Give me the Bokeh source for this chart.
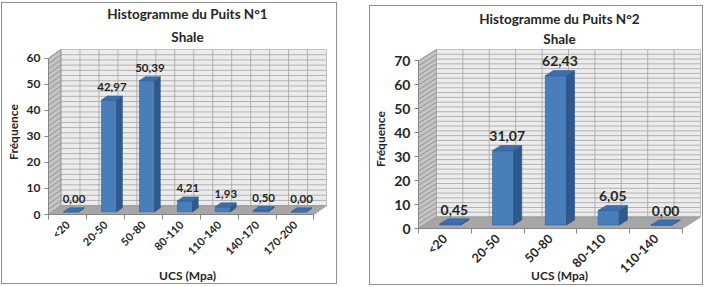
from bokeh.plotting import figure
from bokeh.layouts import row, column, Spacer
from bokeh.models import Range1d, FixedTicker, Title, ColumnDataSource
from bokeh.embed import file_html
from bokeh.resources import INLINE

# ---------------- data ----------------
cats1 = ["<20", "20-50", "50-80", "80-110", "110-140", "140-170", "170-200"]
vals1 = [0.00, 42.97, 50.39, 4.21, 1.93, 0.50, 0.00]
yticks1 = [0, 10, 20, 30, 40, 50, 60]
title1 = "Histogramme du Puits N°1"

cats2 = ["<20", "20-50", "50-80", "80-110", "110-140"]
vals2 = [0.45, 31.07, 62.43, 6.05, 0.00]
yticks2 = [0, 10, 20, 30, 40, 50, 60, 70]
title2 = "Histogramme du Puits N°2"

subtitle = "Shale"
xlabel = "UCS (Mpa)"
ylabel = "Fréquence"

FONT = "Lato"
TXT = "#262626"
AX = "#868686"


def build(title, cats, vals, yticks, width, height, DX, DY, borders, fs, pad, xlab_standoff, sub_stand):
    n = len(cats)
    ymax = yticks[-1]
    p = figure(width=width, height=height, output_backend="svg", toolbar_location=None,
               x_range=Range1d(0, n + DX), y_range=Range1d(0, ymax + DY),
               title=title, min_border_left=borders[0], min_border_right=borders[1],
               min_border_top=borders[2], min_border_bottom=borders[3])
    p.outline_line_color = None
    p.xgrid.visible = False
    p.ygrid.visible = False
    p.background_fill_color = "white"

    # titles (main title outer, subtitle inner)
    p.title.align = "center"
    p.title.text_font = FONT
    p.title.text_font_size = fs["title"]
    p.title.text_color = TXT
    p.title.standoff = 0
    t = Title(text=subtitle, align="center", text_font=FONT, text_font_size=fs["title"],
              text_color=TXT, standoff=sub_stand)
    p.add_layout(t, "above")

    # side wall (left)
    p.patch([0, DX, DX, 0], [0, DY, ymax + DY, ymax], fill_color="#c4c4c4", line_color="#9a9a9a", line_width=0.8)
    # back wall
    p.patch([DX, n + DX, n + DX, DX], [DY, DY, ymax + DY, ymax + DY], fill_color="#ececec",
            line_color="#a8a8a8", line_width=0.8)
    # grid lines every 2 units
    gy = [float(v) for v in range(0, ymax + 1, 2)]
    p.segment(x0=[DX] * len(gy), y0=[g + DY for g in gy], x1=[n + DX] * len(gy), y1=[g + DY for g in gy],
              line_color="#a3a3a3", line_width=0.8)
    p.segment(x0=[0] * len(gy), y0=gy, x1=[DX] * len(gy), y1=[g + DY for g in gy],
              line_color="#858585", line_width=0.8)
    gx = [i * 0.5 for i in range(0, 2 * n + 1)]
    p.segment(x0=[g + DX for g in gx], y0=[DY] * len(gx), x1=[g + DX for g in gx], y1=[ymax + DY] * len(gx),
              line_color="#a3a3a3", line_width=0.8)
    # floor
    p.patch([0, n, n + DX, DX], [0, 0, DY, DY], fill_color="#a6a6a6", line_color="#9a9a9a", line_width=0.8)

    # bars (3D-like)
    w, f, g = 0.40, 0.30, 0.45
    fx, sx, tx = [], [], []
    fy, sy, ty = [], [], []
    lx, ly, lt = [], [], []
    for i, v in enumerate(vals):
        c = i + 0.5
        x0 = c - w / 2 + f * DX
        x1 = c + w / 2 + f * DX
        b = f * DY
        ddx, ddy = g * DX, g * DY
        fx.append([x0, x1, x1, x0]); fy.append([b, b, b + v, b + v])
        sx.append([x1, x1 + ddx, x1 + ddx, x1]); sy.append([b, b + ddy, b + v + ddy, b + v])
        tx.append([x0, x1, x1 + ddx, x0 + ddx]); ty.append([b + v, b + v, b + v + ddy, b + v + ddy])
        lx.append((x0 + x1 + ddx) / 2)
        ly.append(v + b + ddy + pad)
        lt.append(f"{v:.2f}".replace(".", ","))
    p.patches(xs=fx, ys=fy, fill_color="#4a7ebb", line_color="#2f5c92", line_width=0.6)
    p.patches(xs=sx, ys=sy, fill_color="#2d5a8e", line_color="#264d7a", line_width=0.6)
    p.patches(xs=tx, ys=ty, fill_color="#3d6fae", line_color="#2f5c92", line_width=0.6)

    src = ColumnDataSource(dict(x=lx, y=ly, t=lt))
    p.text(x="x", y="y", text="t", source=src, text_align="center", text_baseline="bottom",
           text_font_size=fs["data"], text_font_style="bold", text_color=TXT,
           text_font={"value": FONT})

    # axes
    xa = p.xaxis[0]
    xa.bounds = (0, n)
    centers = [i + 0.5 for i in range(n)]
    xa.ticker = FixedTicker(ticks=centers, minor_ticks=[float(i) for i in range(n + 1)])
    xa.major_label_overrides = {c: cats[i] for i, c in enumerate(centers)}
    xa.major_tick_out = 0
    xa.major_tick_in = 0
    xa.minor_tick_out = 5
    xa.minor_tick_in = 0
    xa.major_label_orientation = 0.785398
    xa.axis_label = xlabel
    xa.axis_label_standoff = xlab_standoff
    ya = p.yaxis[0]
    ya.bounds = (0, ymax)
    ya.ticker = FixedTicker(ticks=yticks, minor_ticks=[])
    ya.major_tick_out = 4
    ya.major_tick_in = 0
    ya.axis_label = ylabel
    ya.axis_label_standoff = 3
    ya.major_label_standoff = 4
    for a in (xa, ya):
        a.axis_line_color = AX
        a.major_tick_line_color = AX
        a.minor_tick_line_color = AX
        a.major_label_text_font = FONT
        a.major_label_text_font_style = "bold"
        a.major_label_text_color = TXT
        a.axis_label_text_font = FONT
        a.axis_label_text_font_style = "bold"
        a.axis_label_text_color = TXT
        a.axis_label_text_font_size = fs["axlab"]
    xa.major_label_text_font_size = fs["xtick"]
    ya.major_label_text_font_size = fs["ytick"]
    xa.major_label_standoff = 3
    p.styles = {"border": "1px solid #8f8f8f", "box-sizing": "border-box"}
    return p


p1 = build(title1, cats1, vals1, yticks1, 336, 282, 0.33, 3.4, (36, 12, 46, 69),
           dict(title="13.5px", data="11.5px", axlab="12px", xtick="11px", ytick="12px"), 1.9, 3, 10)
p2 = build(title2, cats2, vals2, yticks2, 334, 280, 0.34, 4.8, (45, 4, 43, 57),
           dict(title="13.5px", data="14px", axlab="12px", xtick="12.5px", ytick="14px"), 1.7, -16, 5)

layout = row(Spacer(width=1), column(Spacer(height=2), p1), Spacer(width=32), column(Spacer(height=5), p2))
open("out.html", "w").write(file_html(layout, INLINE))
